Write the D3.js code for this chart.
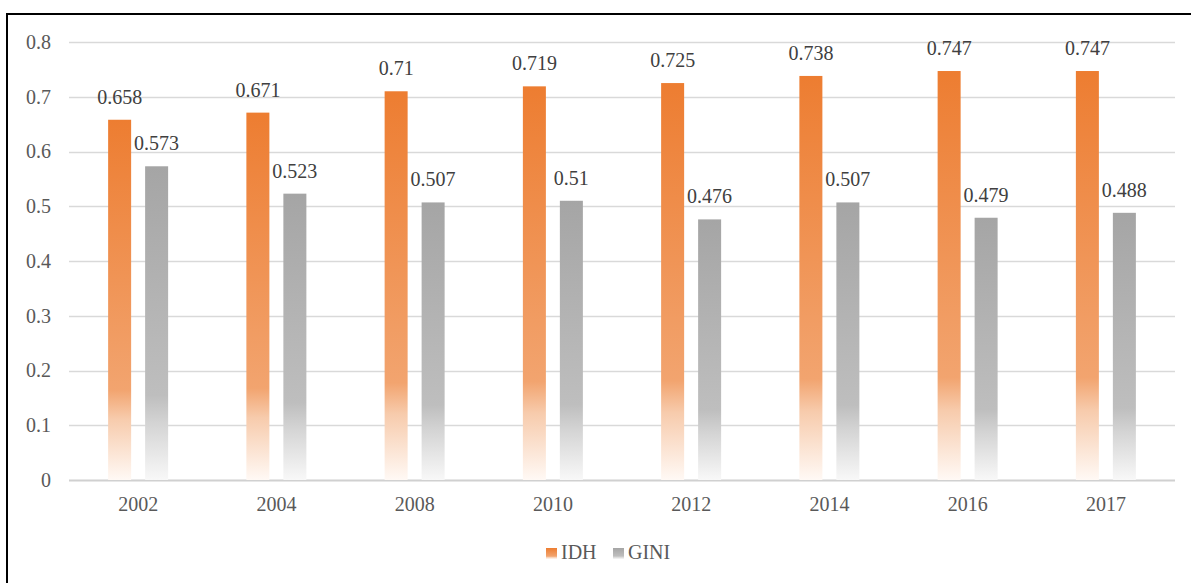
<!DOCTYPE html>
<html>
<head>
<meta charset="utf-8">
<script src="https://cdnjs.cloudflare.com/ajax/libs/d3/7.8.5/d3.min.js"></script>
<style>
  body { margin: 0; background: #fff; }
  svg { display: block; }
  svg text { font-family: "Liberation Serif", "DejaVu Serif", "Times New Roman", serif; }
</style>
</head>
<body>
<svg id="chart"></svg>
<script>
var years = ['2002', '2004', '2008', '2010', '2012', '2014', '2016', '2017'];
var idh = [0.658, 0.671, 0.71, 0.719, 0.725, 0.738, 0.747, 0.747];
var gini = [0.573, 0.523, 0.507, 0.51, 0.476, 0.507, 0.479, 0.488];
var idhLabels = ['0.658', '0.671', '0.71', '0.719', '0.725', '0.738', '0.747', '0.747'];
var giniLabels = ['0.573', '0.523', '0.507', '0.51', '0.476', '0.507', '0.479', '0.488'];
var yTicks = [0, 0.1, 0.2, 0.3, 0.4, 0.5, 0.6, 0.7, 0.8];
var seriesNames = ['IDH', 'GINI'];

var width = 1191;
var height = 583;
var textColor = "#595959";

var svg = d3.select("#chart")
  .attr("width", width)
  .attr("height", height);

// gradients, one per series (per bar, top to bottom)
var defs = svg.append("defs");
var gradStops = {
  IDH: [[0, "#ED7D31"], [0.75, "#F2A46F"], [0.83, "#F7CBAC"], [1, "#FFF9F5"]],
  GINI: [[0, "#A5A5A5"], [0.73, "#BEBEBE"], [0.82, "#D4D4D4"], [1, "#F8F8F8"]]
};
seriesNames.forEach(function (s) {
  var g = defs.append("linearGradient")
    .attr("id", "grad" + s)
    .attr("x1", 0).attr("y1", 0)
    .attr("x2", 0).attr("y2", 1);
  gradStops[s].forEach(function (st) {
    g.append("stop").attr("offset", st[0]).attr("stop-color", st[1]);
  });
});

// border
svg.append("rect")
  .attr("x", 7)
  .attr("y", 14)
  .attr("width", 1300)
  .attr("height", 700)
  .attr("fill", "none")
  .attr("stroke", "#000")
  .attr("stroke-width", 2);

var x0 = d3.scaleBand()
  .domain(years)
  .range([69, 1175]);

var step = x0.bandwidth();
var x1 = d3.scaleBand()
  .domain(seriesNames)
  .range([step / 2 - 30, step / 2 + 30])
  .paddingInner(0.378);

var y = d3.scaleLinear()
  .domain([0, 0.8])
  .range([480, 42]);

// grid
var grid = svg.append("g");
yTicks.forEach(function (t) {
  grid.append("line")
    .attr("x1", 69)
    .attr("x2", 1175)
    .attr("y1", Math.round(y(t)) + 0.5)
    .attr("y2", Math.round(y(t)) + 0.5)
    .attr("stroke", t === 0 ? "#D0D0D0" : "#D9D9D9")
    .attr("stroke-width", t === 0 ? 2 : 1.5);
});

// y labels
var yAxis = d3.axisLeft(y)
  .tickValues(yTicks)
  .tickSize(0)
  .tickPadding(0)
  .tickFormat(function (d) { return d === 0 ? "0" : d3.format(".1f")(d); });

var yg = svg.append("g")
  .attr("transform", "translate(51,0)")
  .call(yAxis);
yg.select(".domain").remove();
yg.attr("font-family", null);
yg.selectAll("text")
  .attr("font-size", "20px")
  .attr("fill", textColor);

// x labels
var xAxis = d3.axisBottom(x0).tickSize(0).tickPadding(0);
var xg = svg.append("g")
  .attr("transform", "translate(0,497)")
  .call(xAxis);
xg.select(".domain").remove();
xg.attr("font-family", null);
xg.selectAll("text")
  .attr("font-size", "20px")
  .attr("fill", textColor)
  .attr("dy", "0.71em");

// bars
var values = { IDH: idh, GINI: gini };
var labels = { IDH: idhLabels, GINI: giniLabels };
var bars = svg.append("g");

years.forEach(function (yr, i) {
  seriesNames.forEach(function (s) {
    var v = values[s][i];
    var bx = x0(yr) + x1(s);
    bars.append("rect")
      .attr("x", bx)
      .attr("y", y(v))
      .attr("width", x1.bandwidth())
      .attr("height", y(0) - y(v))
      .attr("fill", "url(#grad" + s + ")");

    bars.append("text")
      .text(labels[s][i])
      .attr("font-size", "20px")
      .attr("fill", "#404040")
      .attr("text-anchor", "middle")
      .attr("x", bx + x1.bandwidth() / 2)
      .attr("y", y(v) - 16);
  });
});

// legend
var legend = svg.append("g");
var legendX = { IDH: 546, GINI: 613 };
seriesNames.forEach(function (s) {
  legend.append("rect")
    .attr("x", legendX[s])
    .attr("y", 548)
    .attr("width", 11)
    .attr("height", 11)
    .attr("fill", "url(#grad" + s + ")");
  legend.append("text")
    .text(s)
    .attr("font-size", "20px")
    .attr("fill", textColor)
    .attr("x", legendX[s] + 15)
    .attr("y", 559);
});
</script>
</body>
</html>
